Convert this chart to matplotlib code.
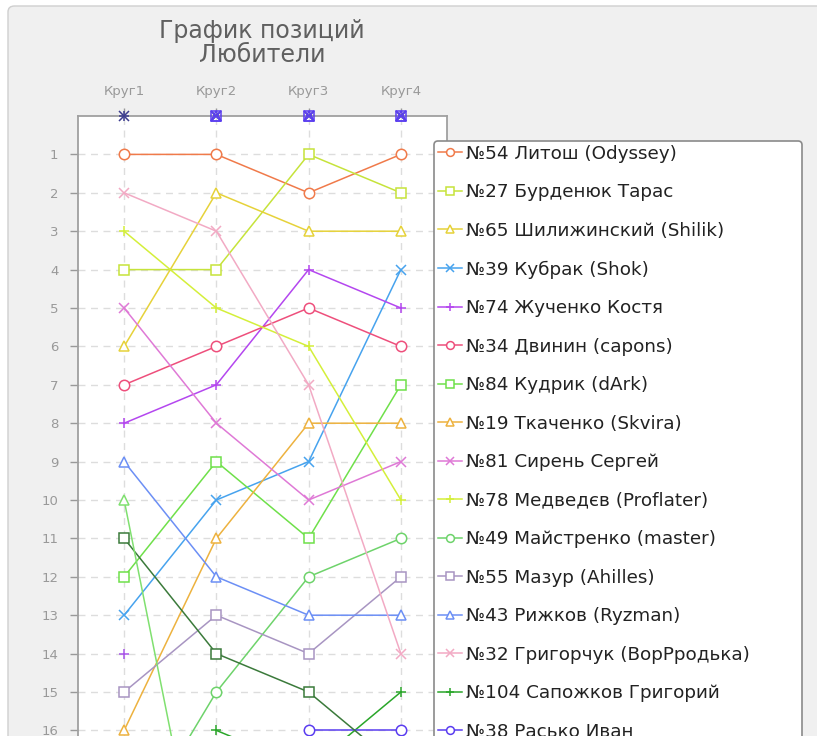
import numpy as np
import matplotlib
matplotlib.use("Agg")
import matplotlib.pyplot as plt
from matplotlib.patches import FancyBboxPatch

nan = np.nan
rounds = ["Круг1", "Круг2", "Круг3", "Круг4"]

participants = [
    "№54 Литош (Odyssey)", "№27 Бурденюк Тарас", "№65 Шилижинский (Shilik)",
    "№39 Кубрак (Shok)", "№74 Жученко Костя", "№34 Двинин (capons)",
    "№84 Кудрик (dArk)", "№19 Ткаченко (Skvira)", "№81 Сирень Сергей",
    "№78 Медведєв (Proflater)", "№49 Майстренко (master)", "№55 Мазур (Ahilles)",
    "№43 Рижков (Ryzman)", "№32 Григорчук (ВорРродька)", "№104 Сапожков Григорий",
    "№38 Расько Иван",
    # entries below are cut off in the picture (legend continues off-image)
    "", "", "",
]
round1 = [1, 4, 6, 13, 8, 7, 12, 16, 5, 3, 19, 15, 9, 2, nan, nan, 11, 10, 14]
round2 = [1, 4, 2, 10, 7, 6, 9, 11, 8, 5, 15, 13, 12, 3, 16, nan, 14, 22, nan]
round3 = [2, 1, 3, 9, 4, 5, 11, 8, 10, 6, 12, 14, 13, 7, 17, 16, 15, nan, nan]
round4 = [1, 2, 3, 4, 5, 6, 7, 8, 9, 10, 11, 12, 13, 14, 15, 16, 17, nan, nan]

markers = ["o", "s", "^", "x", "+", "o", "s", "^", "x", "+", "o", "s", "^", "x", "+", "o",
           "s", "^", "+"]
colors = ["#f07a4a", "#c6e33b", "#e6d23a", "#47a3ee", "#b447ef", "#ee4f7c", "#6fe04a",
          "#edb23f", "#df79d6", "#d4ef3a", "#6ed36b", "#a895c2", "#6c8ff5", "#f2aac4",
          "#2aa62a", "#5a3df0", "#3b7a3b", "#80e070", "#a855e8"]

# markers drawn on the top edge (position 0 = no result)
absent_markers = ["x", "+", "s", "x", "^"]
absent_colors = ["#3d3d8f", "#3d3d8f", "#5a3df0", "#5a3df0", "#5a3df0"]
absent_r1 = [0, 0, nan, nan, nan]
absent_r2 = [0, nan, 0, 0, 0]
absent_r3 = [0, nan, 0, 0, 0]
absent_r4 = [0, nan, 0, 0, 0]

W, H = 817, 736
fig = plt.figure(figsize=(W / 100, H / 100), dpi=100)
fig.patch.set_facecolor("white")

panel = FancyBboxPatch((8 / W, 1 - 760 / H), 840 / W, 754 / H,
                       boxstyle="round,pad=0,rounding_size=0.008",
                       transform=fig.transFigure, facecolor="#f0f0f0",
                       edgecolor="#cfcfcf", linewidth=1.0, zorder=-10)
fig.patches.append(panel)

ymax = 25
ax_left, ax_right, ax_top = 78, 447, 116
px_per = 38.4
ax_h = ymax * px_per
ax = fig.add_axes([ax_left / W, 1 - (ax_top + ax_h) / H, (ax_right - ax_left) / W, ax_h / H])
ax.set_facecolor("white")

xs = np.arange(1, 5)
lines = []
for i in range(len(participants)):
    ys = [round1[i], round2[i], round3[i], round4[i]]
    ln, = ax.plot(xs, ys, color=colors[i], marker=markers[i], markersize=7.5,
                  markerfacecolor="white" if markers[i] in ("o", "s", "^") else colors[i],
                  markeredgecolor=colors[i], markeredgewidth=1.1, linewidth=1.1,
                  label=participants[i], clip_on=False, zorder=3)
    lines.append(ln)

for i in range(len(absent_markers)):
    ys = [absent_r1[i], absent_r2[i], absent_r3[i], absent_r4[i]]
    ax.plot(xs, ys, linestyle="none", marker=absent_markers[i], markersize=7,
            markerfacecolor="none", markeredgecolor=absent_colors[i], markeredgewidth=1.1,
            clip_on=False, zorder=4)

ax.set_xlim(0.5, 4.5)
ax.set_ylim(ymax, 0)
ax.set_xticks(xs)
ax.set_xticklabels(rounds)
ax.xaxis.tick_top()
ax.set_yticks(np.arange(1, ymax))
ax.tick_params(axis="x", colors="#999999", labelcolor="#999999", labelsize=9.5,
               length=6, width=1, pad=7, direction="out")
ax.tick_params(axis="y", colors="#999999", labelcolor="#999999", labelsize=9.5,
               length=6, width=1, pad=8, direction="out")
for s in ["left", "top", "right"]:
    ax.spines[s].set_color("#a0a0a0")
    ax.spines[s].set_linewidth(1.3)
ax.spines["bottom"].set_visible(False)
ax.grid(True, color="#dddddd", linestyle=(0, (5, 4)), linewidth=1.0, zorder=0)
ax.set_axisbelow(True)

fig.text(262 / W, 1 - 43 / H, "График позиций\nЛюбители", ha="center", va="center",
         fontsize=17, color="#606060", linespacing=1.05, family="DejaVu Sans")

leg = fig.legend(handles=lines[:16], loc="upper left",
                 bbox_to_anchor=(434 / W, 1 - 141 / H, (802 - 434) / W, 0),
                 bbox_transform=fig.transFigure, mode="expand",
                 fontsize=13.2, frameon=True, fancybox=True, framealpha=1,
                 edgecolor="#8a8a8a", facecolor="white", handlelength=1.35,
                 handletextpad=0.2, labelspacing=1.12, borderpad=0.2,
                 borderaxespad=0, markerscale=0.75, labelcolor="#222222")
leg.get_frame().set_linewidth(1.2)
leg.set_zorder(10)

fig.savefig("out.png", dpi=100, facecolor=fig.get_facecolor())
